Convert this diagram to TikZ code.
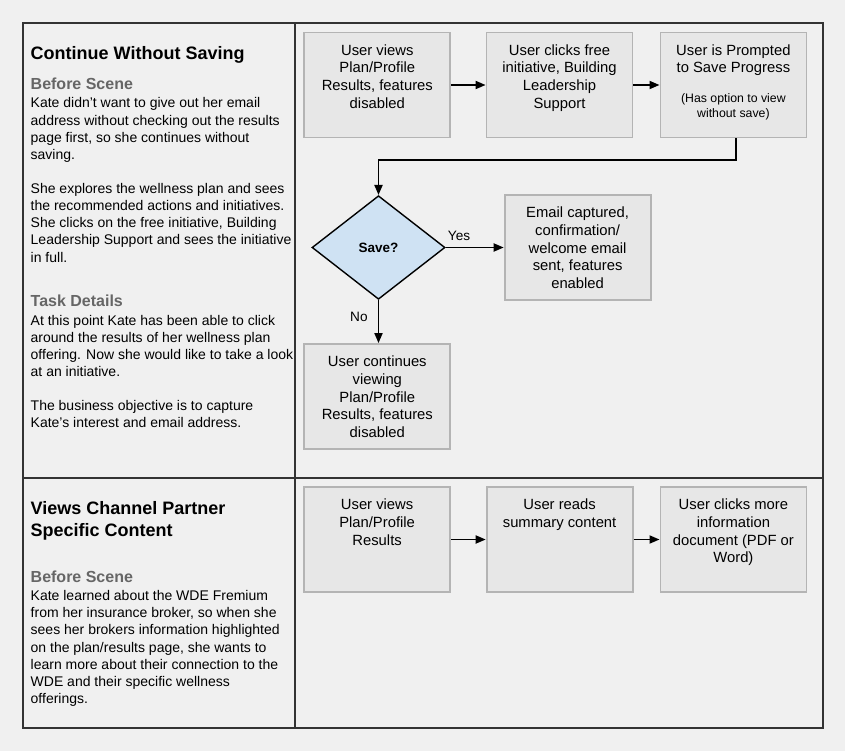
\documentclass[tikz,border=0pt]{standalone}
\usepackage{fontspec}
\setmainfont{Liberation Sans}
\usepackage{xcolor}
\usetikzlibrary{arrows.meta,positioning,shapes.geometric}
\definecolor{pagebg}{HTML}{F0F0F0}
\definecolor{boxfill}{HTML}{E7E7E7}
\definecolor{boxline}{HTML}{B4B4B4}
\definecolor{savefill}{HTML}{CFE2F3}
\definecolor{subgray}{HTML}{666666}
\tikzset{>={Triangle[length=10pt,width=8pt]}}
\tikzset{
	stepbox/.style={draw=boxline, fill=boxfill, line width=1.8pt,
			minimum width=146pt, minimum height=105pt, inner sep=0pt},
	steptext/.style={anchor=north, align=center, inner sep=0pt,
			font=\fontsize{14.8}{17.6}\selectfont},
	notetext/.style={anchor=north, align=center, inner sep=0pt,
			font=\fontsize{12.3}{15}\selectfont},
	decision/.style={diamond, draw, fill=savefill, line width=1.4pt, inner sep=0pt,
			minimum width=133pt, minimum height=103.6pt,
			font=\bfseries\fontsize{13.5}{16}\selectfont},
	flow/.style={->, line width=1.8pt},
	lbl/.style={inner sep=2pt, font=\fontsize{13.6}{16}\selectfont},
	heading/.style={anchor=base west, inner sep=0pt, align=left,
			font=\bfseries\fontsize{18}{21.7}\selectfont},
	subhead/.style={anchor=base west, inner sep=0pt, text=subgray,
			font=\bfseries\fontsize{16}{19}\selectfont},
	bodytext/.style={anchor=north west, inner sep=0pt, align=left,
			font=\fontsize{14}{17.15}\selectfont}
}

\begin{document}
\begin{tikzpicture}[x=1pt,y=-1pt]
			% Page and frame
			\fill [pagebg] (0,0) rectangle (845,751);
			\useasboundingbox (0,0) rectangle (845,751);

			% Left column texts
			\node [heading] (h1) at (30.5,59.8) {Continue Without Saving};
			\node [subhead] (bs1) at (30.5,90) {Before Scene};
			\node [bodytext] (p1) at (30.5,97.6) {Kate didn’t want to give out her email\\address without checking out the results\\page first, so she continues without\\saving.};
			\node [bodytext] (p2) at (30.5,183.2) {She explores the wellness plan and sees\\the recommended actions and initiatives.\\She clicks on the free initiative, Building\\Leadership Support and sees the initiative\\in full.};
			\node [subhead] (td) at (30.5,306.8) {Task Details};
			\node [bodytext] (p3) at (30.5,314.9) {At this point Kate has been able to click\\around the results of her wellness plan\\offering. Now she would like to take a look\\at an initiative.};
			\node [bodytext] (p4) at (30.5,399.9) {The business objective is to capture\\Kate’s interest and email address.};

			\node [heading] (h2) at (30.5,536.5) {Views Channel Partner\\Specific Content};
			\node [subhead] (bs2) at (30.5,582.8) {Before Scene};
			\node [bodytext] (p5) at (30.5,590.2) {Kate learned about the WDE Fremium\\from her insurance broker, so when she\\sees her brokers information highlighted\\on the plan/results page, she wants to\\learn more about their connection to the\\WDE and their specific wellness\\offerings.};

			% Frame lines
			\draw [line width=1.4pt, draw=black!80] (23,23) rectangle (823,728);
			\draw [line width=1.4pt, draw=black!80] (295,23) -- (295,728);
			\draw [line width=1.4pt, draw=black!80] (23,478) -- (823,478);

			% Steps, first scene
			\node [stepbox] (s1) at (377.3,85) {};
			\node [stepbox] (s2) at (559.5,85) {};
			\node [stepbox] (s3) at (733.4,85) {};
			\node [steptext, below=12.8pt of s1.north] (s1t) {User views\\Plan/Profile\\Results, features\\disabled};
			\node [steptext, below=12.8pt of s2.north] (s2t) {User clicks free\\initiative, Building\\Leadership\\Support};
			\node [steptext, below=12.8pt of s3.north] (s3t) {User is Prompted\\to Save Progress};
			\node [notetext, below=62pt of s3.north] (s3n) {(Has option to view\\without save)};

			\node [decision] (save) at (378.5,247.5) {Save?};
			\node [stepbox] (mail) at (577.6,247.5) {};
			\node [steptext, below=12.8pt of mail.north] (mailt) {Email captured,\\confirmation/\\welcome email\\sent, features\\enabled};
			\node [stepbox] (cont) at (377.3,396.5) {};
			\node [steptext, below=12.8pt of cont.north] (contt) {User continues\\viewing\\Plan/Profile\\Results, features\\disabled};

			% Steps, second scene
			\node [stepbox] (b1) at (377.1,539.5) {};
			\node [stepbox] (b2) at (559.6,539.5) {};
			\node [stepbox] (b3) at (733.4,539.5) {};
			\node [steptext, below=12.8pt of b1.north] (b1t) {User views\\Plan/Profile\\Results};
			\node [steptext, below=12.8pt of b2.north] (b2t) {User reads\\summary content};
			\node [steptext, below=12.8pt of b3.north] (b3t) {User clicks more\\information\\document (PDF or\\Word)};

			% Connectors
			\draw [flow] (s1.east) -- (s2.west);
			\draw [flow] (s2.east) -- (s3.west);
			\draw [flow] ([xshift=2.5pt]s3.south) -- ++(0,21.8) -| (save.north);
			\draw [flow] (save.east) -- node [lbl, above=4pt, pos=0.23] {Yes} (mail.west);
			\draw [flow] (save.south) -- node [lbl, left=8pt, pos=0.39] {No} (save.south |- cont.north);
			\draw [flow] (b1.east) -- (b2.west);
			\draw [flow] (b2.east) -- (b3.west);
		\end{tikzpicture}
\end{document}
